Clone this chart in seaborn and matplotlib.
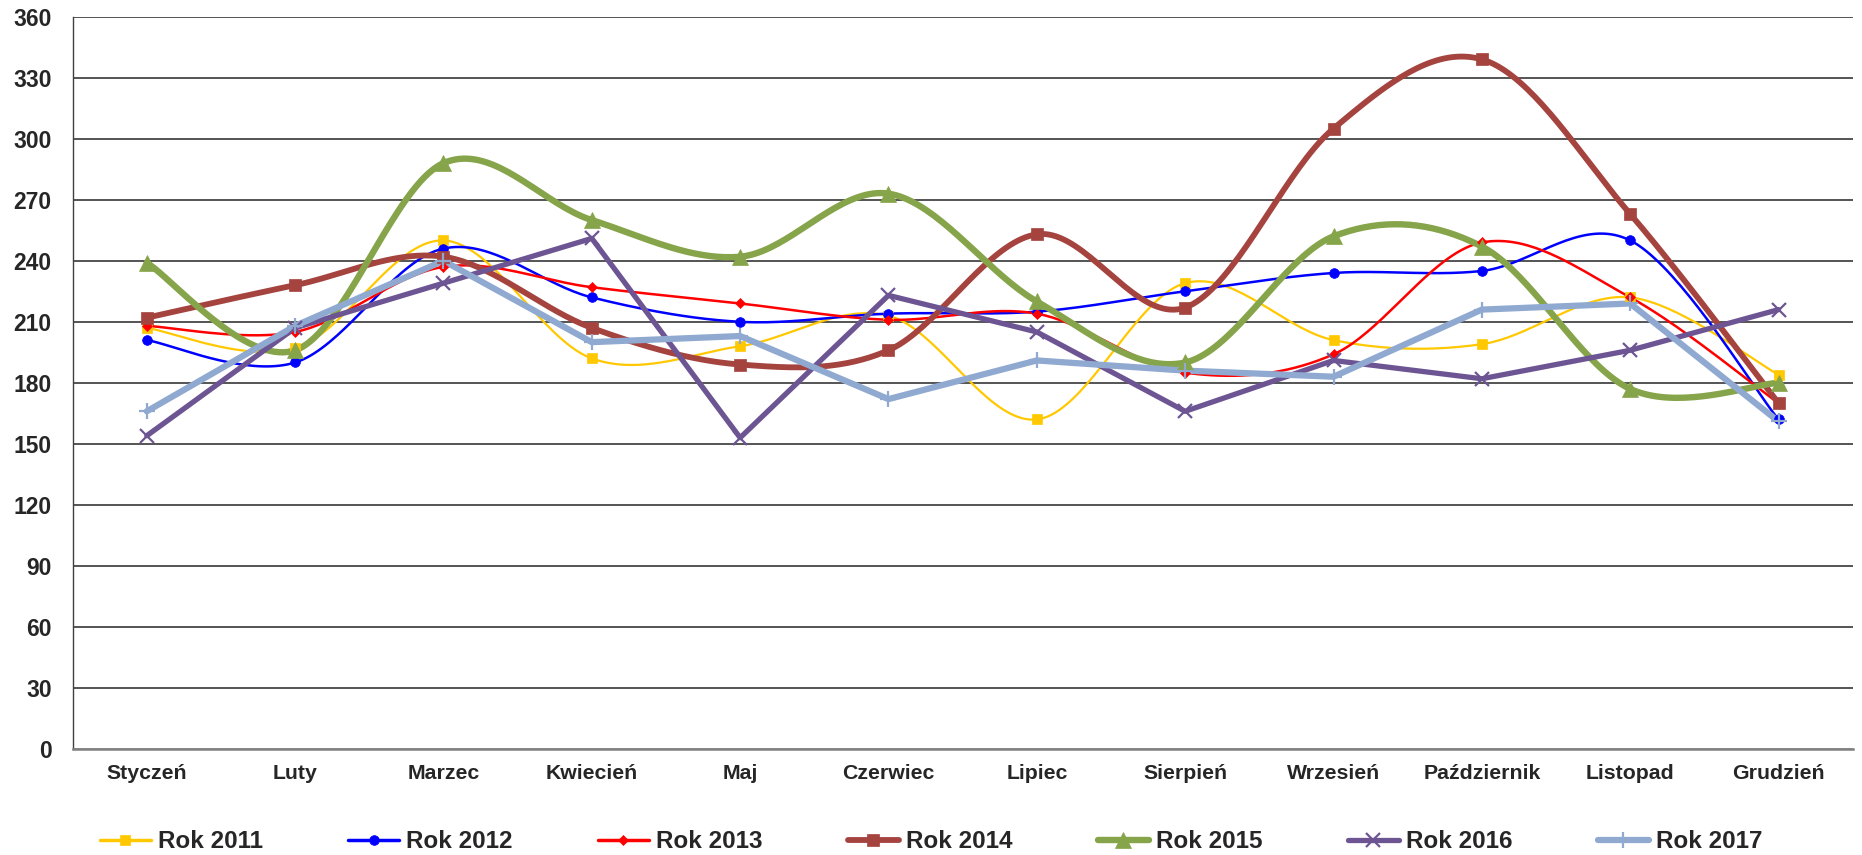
import numpy as np
import pandas as pd
import matplotlib
matplotlib.use("Agg")
import matplotlib.pyplot as plt
import seaborn as sns
from matplotlib.lines import Line2D

# ------------------------------------------------------------
# dane
# ------------------------------------------------------------
miesiace = ['Styczeń', 'Luty', 'Marzec', 'Kwiecień', 'Maj', 'Czerwiec',
            'Lipiec', 'Sierpień', 'Wrzesień', 'Październik', 'Listopad', 'Grudzień']

rok_2011 = [207, 197, 250, 192, 198, 213, 162, 229, 201, 199, 222, 184]
rok_2012 = [201, 190, 246, 222, 210, 214, 215, 225, 234, 235, 250, 162]
rok_2013 = [208, 205, 237, 227, 219, 211, 214, 185, 194, 249, 222, 170]
rok_2014 = [212, 228, 242, 207, 189, 196, 253, 217, 305, 339, 263, 170]
rok_2015 = [239, 196, 288, 260, 242, 273, 220, 190, 252, 247, 177, 180]
rok_2016 = [154, 207, 229, 251, 153, 223, 205, 166, 191, 182, 196, 216]
rok_2017 = [166, 208, 240, 200, 203, 172, 191, 186, 183, 216, 219, 161]

serie = ['Rok 2011', 'Rok 2012', 'Rok 2013', 'Rok 2014', 'Rok 2015', 'Rok 2016', 'Rok 2017']
wartosci = [rok_2011, rok_2012, rok_2013, rok_2014, rok_2015, rok_2016, rok_2017]

# styl: kolor, marker, rozmiar markera, grubosc linii, wygladzenie
kolory = ['#FFC800', '#0000FF', '#FF0000', '#A5433F', '#86A44A', '#6C5592', '#8FA9D0']
markery = ['s', 'o', 'D', 's', '^', 'x', '+']
rozmiary = [7, 7, 5, 8, 11, 10, 11]
grubosci = [1.6, 1.8, 1.8, 4.2, 4.6, 3.8, 4.5]
wygladz = [True, True, True, True, True, False, False]


def krzywa(y, n=40):
    """Wygladzanie jak w Excelu (Catmull-Rom / Bezier)."""
    y = np.asarray(y, dtype=float)
    x = np.arange(len(y), dtype=float)
    P = np.column_stack([x, y])
    P = np.vstack([P[0], P, P[-1]])
    t = np.linspace(0, 1, n)[:, None]
    out = []
    for i in range(1, len(P) - 2):
        p0, p1, p2, p3 = P[i - 1], P[i], P[i + 1], P[i + 2]
        b1 = p1 + (p2 - p0) / 6
        b2 = p2 - (p3 - p1) / 6
        seg = ((1 - t) ** 3) * p1 + 3 * ((1 - t) ** 2) * t * b1 + 3 * (1 - t) * t ** 2 * b2 + t ** 3 * p2
        out.append(seg if i == 1 else seg[1:])
    c = np.vstack(out)
    return c[:, 0], c[:, 1]


# ------------------------------------------------------------
# wykres
# ------------------------------------------------------------
sns.set_style("white")
plt.rcParams['font.family'] = ['Liberation Sans', 'DejaVu Sans']
plt.rcParams['font.weight'] = 'bold'

fig = plt.figure(figsize=(18.62, 8.55), dpi=100)
ax = fig.add_axes([0.039, 0.124, 0.956, 0.8565])

for ax_y in range(0, 361, 30):
    ax.axhline(ax_y, color='#262626' if ax_y > 0 else '#808080', lw=1.1 if ax_y > 0 else 1.8, zorder=0)

xpos = np.arange(len(miesiace))
for nazwa, y, kol, mk, ms, lw, gl in zip(serie, wartosci, kolory, markery, rozmiary, grubosci, wygladz):
    if gl:
        cx, cy = krzywa(y)
    else:
        cx, cy = xpos, np.asarray(y, dtype=float)
    df_linia = pd.DataFrame({'x': cx, 'y': cy})
    sns.lineplot(data=df_linia, x='x', y='y', color=kol, lw=lw, sort=False,
                 estimator=None, ax=ax, zorder=2)
    ax.plot(xpos, y, linestyle='none', marker=mk, markersize=ms, color=kol,
            markeredgewidth=1.6 if mk in ('x', '+') else 0.5, zorder=3)

ax.set_xlim(-0.5, len(miesiace) - 0.5)
ax.set_ylim(0, 360)
ax.set_yticks(range(0, 361, 30))
ax.set_yticklabels([str(v) for v in range(0, 361, 30)], fontsize=16.5, fontweight='bold')
ax.set_xticks(xpos)
ax.set_xticklabels(miesiace, fontsize=15.3, fontweight='bold')
ax.set_xticks(np.arange(-0.5, len(miesiace), 1), minor=True)
ax.tick_params(axis='x', which='major', length=0, pad=11)
ax.tick_params(axis='x', which='minor', length=4.5, color='#808080', width=1)
ax.tick_params(axis='y', length=5, color='#404040', width=1, pad=10)
ax.set_xlabel('')
ax.set_ylabel('')

for s in ['top', 'right']:
    ax.spines[s].set_visible(False)
ax.spines['left'].set_color('#404040')
ax.spines['left'].set_linewidth(1)
ax.spines['bottom'].set_color('#808080')
ax.spines['bottom'].set_linewidth(1.8)

uchwyty = [Line2D([0], [0], color=k, lw=max(l, 2.5), marker=m, markersize=s,
                  markeredgewidth=1.6 if m in ('x', '+') else 0.5)
           for k, m, s, l in zip(kolory, markery, rozmiary, grubosci)]
fig.legend(uchwyty, serie, loc='center', ncol=7, frameon=False,
           bbox_to_anchor=(0.5, 0.0155), prop={'size': 17.5, 'weight': 'bold'},
           handlelength=2.1, handletextpad=0.3, columnspacing=3.5,
           borderpad=0, borderaxespad=0)

plt.savefig('out.png', dpi=100)
